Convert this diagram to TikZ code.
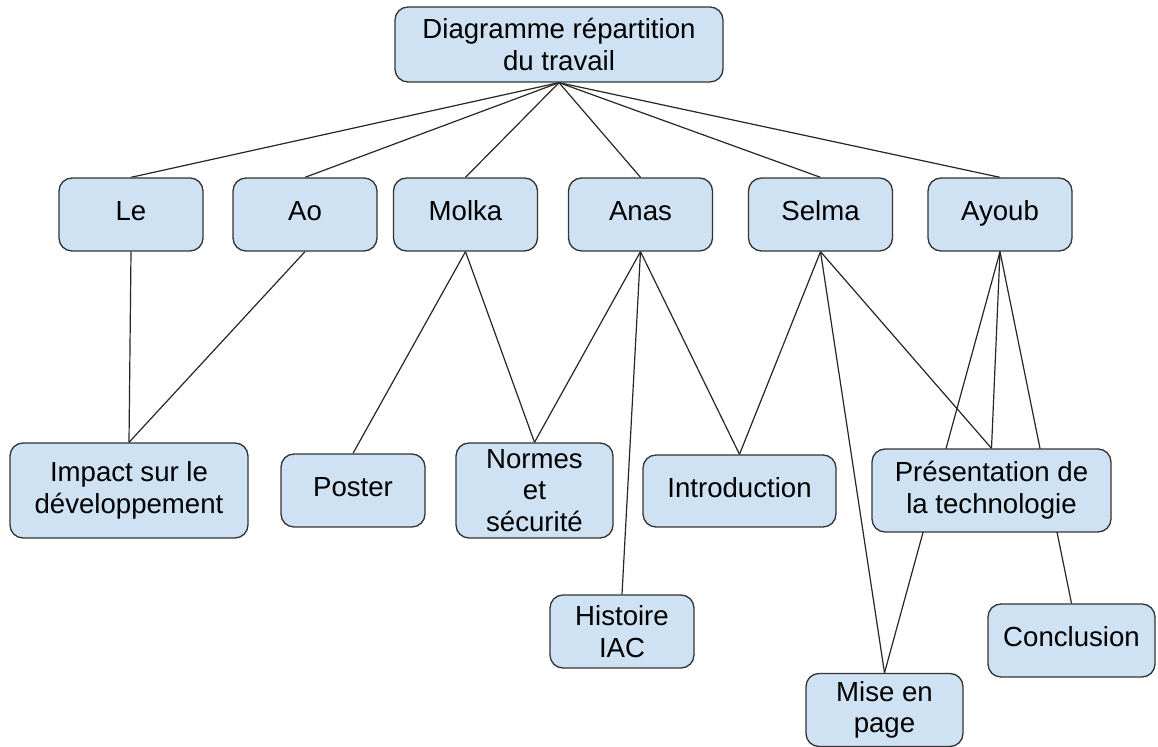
\documentclass[tikz,border=0pt]{standalone}
\usepackage{fontspec}
\setmainfont{Liberation Sans}
\usetikzlibrary{backgrounds}
\definecolor{boxblue}{HTML}{CFE2F3}
\definecolor{boxline}{HTML}{333333}
\begin{document}
\begin{tikzpicture}[x=0.5pt,y=-0.5pt,
    boite/.style={draw=boxline,fill=boxblue,line width=0.65pt,rounded corners=6.5pt,
        inner sep=0pt,align=center,font=\fontsize{13.8}{15.8}\selectfont},
    ligne/.style={boite,text height=0.62em,text depth=0pt},
    lien/.style={line width=0.6pt,black!85}]
        \useasboundingbox (0,0) rectangle (1158,747);
        \node[boite,minimum width=164pt,minimum height=37.5pt] (racine) at (559,44.5) {Diagramme répartition\\du travail};
        \node[ligne,minimum width=72pt,minimum height=36.5pt] (le) at (131,214.5) {Le};
        \node[ligne,minimum width=72pt,minimum height=36.5pt] (ao) at (305,214.5) {Ao};
        \node[ligne,minimum width=72pt,minimum height=36.5pt] (molka) at (465.5,214.5) {Molka};
        \node[ligne,minimum width=72pt,minimum height=36.5pt] (anas) at (640.5,214.5) {Anas};
        \node[ligne,minimum width=72pt,minimum height=36.5pt] (selma) at (820.5,214.5) {Selma};
        \node[ligne,minimum width=72pt,minimum height=36.5pt] (ayoub) at (1000,214.5) {Ayoub};
        \node[boite,minimum width=119pt,minimum height=47.5pt] (impact) at (129,490.5) {Impact sur le\\développement};
        \node[ligne,minimum width=72pt,minimum height=36.5pt] (poster) at (353,490.5) {Poster};
        \node[boite,minimum width=78.5pt,minimum height=47.5pt] (normes) at (534.5,490.5) {Normes\\et\\sécurité};
        \node[ligne,minimum width=96.5pt,minimum height=36pt] (intro) at (739.5,491) {Introduction};
        \node[boite,minimum width=119.5pt,minimum height=41.5pt] (presentation) at (991.5,490.5) {Présentation de\\la technologie};
        \node[boite,minimum width=72pt,minimum height=36.5pt] (histoire) at (622,631.5) {Histoire\\IAC};
        \node[ligne,minimum width=83.5pt,minimum height=36.5pt] (conclusion) at (1071.5,640.5) {Conclusion};
        \node[boite,minimum width=78.5pt,minimum height=36.5pt] (miseenpage) at (884.5,710) {Mise en\\page};
        \begin{scope}[on background layer]
        % racine vers les membres
        \foreach \m in {le,ao,molka,anas,selma,ayoub}
            \draw[lien] (racine.south) -- (\m.north);
        % membres vers les parties
        \draw[lien] (le.south) -- (impact.north);
        \draw[lien] (ao.south) -- (impact.north);
        \draw[lien] (molka.south) -- (poster.north);
        \draw[lien] (molka.south) -- (normes.north);
        \foreach \p in {normes,histoire,intro}
            \draw[lien] (anas.south) -- (\p.north);
        \foreach \p in {intro,miseenpage,presentation}
            \draw[lien] (selma.south) -- (\p.north);
        \foreach \p in {presentation,miseenpage,conclusion}
            \draw[lien] (ayoub.south) -- (\p.north);
        \end{scope}
    \end{tikzpicture}
\end{document}
